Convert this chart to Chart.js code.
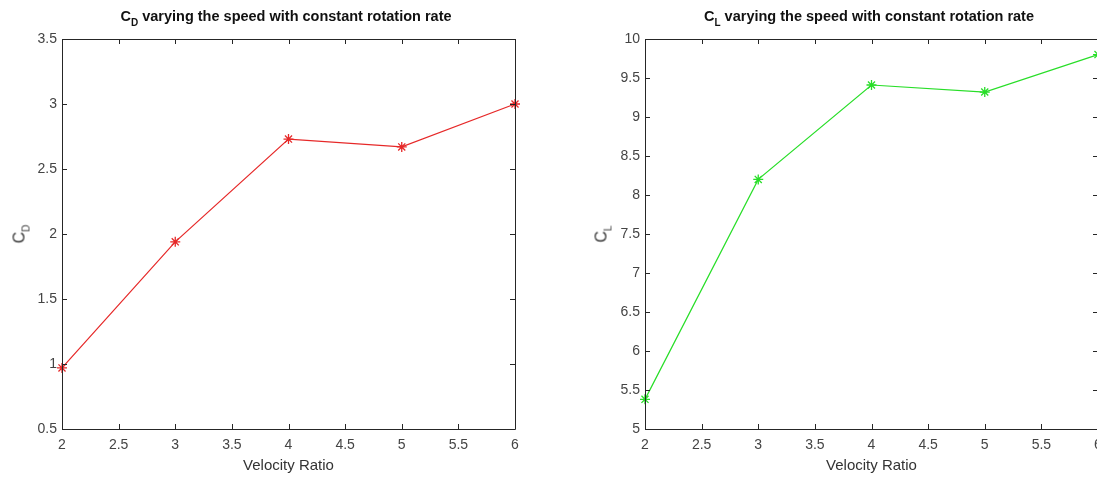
<!DOCTYPE html>
<html>
<head>
<meta charset="utf-8">
<script src="https://cdn.jsdelivr.net/npm/chart.js@4.4.0/dist/chart.umd.min.js"></script>
<style>
  html, body { margin: 0; padding: 0; background: #fff; }
  body { width: 1097px; height: 477px; overflow: hidden; position: relative; font-family: "Liberation Sans", Arial, sans-serif; }
  canvas { position: absolute; top: 0; }
  .ttl { position: absolute; font-weight: bold; font-size: 14.5px; color: #111; white-space: nowrap; transform: translateX(-50%); }
  .ylab { position: absolute; font-size: 16px; color: #333; white-space: nowrap; transform: translate(-50%, -50%) rotate(-90deg); }
  sub { font-size: 10px; vertical-align: -5px; }
</style>
</head>
<body>
<canvas id="cdChart" width="560" height="477" style="left:0px"></canvas>
<canvas id="clChart" width="560" height="477" style="left:560px"></canvas>
<div class="ttl" style="left:286px; top:8px">C<sub>D</sub> varying the speed with constant rotation rate</div>
<div class="ttl" style="left:869px; top:8px">C<sub>L</sub> varying the speed with constant rotation rate</div>
<div class="ylab" style="left:21px; top:234px">C<sub>D</sub></div>
<div class="ylab" style="left:603px; top:234px">C<sub>L</sub></div>
<script>
// values
var velocityRatio = [2, 3, 4, 5, 6];
var cdValues = [0.97, 1.94, 2.73, 2.67, 3.0];
var clValues = [5.38, 8.2, 9.41, 9.32, 9.8];

var xTicks = [2, 2.5, 3, 3.5, 4, 4.5, 5, 5.5, 6];
var cdTicks = [0.5, 1, 1.5, 2, 2.5, 3, 3.5];
var clTicks = [5, 5.5, 6, 6.5, 7, 7.5, 8, 8.5, 9, 9.5, 10];

var axisColor = '#262626';

// matlab style box with inward ticks on all four sides
var boxTicks = {
    id: 'boxTicks',
    afterDatasetsDraw: function(chart){
        var ctx = chart.ctx;
        var a = chart.chartArea;
        var xs = chart.scales.x, ys = chart.scales.y;
        var len = 5;
        ctx.save();
        ctx.strokeStyle = axisColor;
        ctx.lineWidth = 1;
        ctx.beginPath();
        ctx.rect(Math.round(a.left) + 0.5, Math.round(a.top) + 0.5, Math.round(a.right - a.left), Math.round(a.bottom - a.top));
        xs.ticks.forEach(function(t){
            var px = Math.round(xs.getPixelForValue(t.value)) + 0.5;
            ctx.moveTo(px, a.bottom); ctx.lineTo(px, a.bottom - len);
            ctx.moveTo(px, a.top); ctx.lineTo(px, a.top + len);
        });
        ys.ticks.forEach(function(t){
            var py = Math.round(ys.getPixelForValue(t.value)) + 0.5;
            ctx.moveTo(a.left, py); ctx.lineTo(a.left + len, py);
            ctx.moveTo(a.right, py); ctx.lineTo(a.right - len, py);
        });
        ctx.stroke();
        ctx.restore();
    }
};

function makeChart(id, values, yTicks, color, yWidth, rightPad){
    var points = velocityRatio.map(function(v, i){ return {x: v, y: values[i]}; });
    return new Chart(document.getElementById(id), {
        type: 'line',
        data: {
            datasets: [{
                data: points,
                borderColor: color,
                backgroundColor: color,
                borderWidth: 1.2,
                pointStyle: 'star',
                pointRadius: 5,
                pointBorderColor: color,
                pointBorderWidth: 1.3,
                tension: 0,
                clip: false
            }]
        },
        options: {
            responsive: false,
            animation: false,
            layout: { padding: { left: 0, right: rightPad, top: 39, bottom: 0 } },
            plugins: { legend: { display: false }, title: { display: false }, tooltip: { enabled: false } },
            scales: {
                x: {
                    type: 'linear',
                    min: xTicks[0],
                    max: xTicks[xTicks.length - 1],
                    afterBuildTicks: function(s){ s.ticks = xTicks.map(function(v){ return {value: v}; }); },
                    afterFit: function(s){ s.height = 48; },
                    grid: { display: false, drawTicks: false },
                    border: { display: false },
                    ticks: {
                        padding: 8,
                        color: '#444',
                        font: { family: 'Liberation Sans', size: 14 },
                        maxRotation: 0,
                        autoSkip: false,
                        callback: function(v){ return String(v); }
                    },
                    title: {
                        display: true,
                        text: 'Velocity Ratio',
                        color: '#333',
                        font: { family: 'Liberation Sans', size: 15 },
                        padding: { top: 0, bottom: 2 }
                    }
                },
                y: {
                    type: 'linear',
                    min: yTicks[0],
                    max: yTicks[yTicks.length - 1],
                    afterBuildTicks: function(s){ s.ticks = yTicks.map(function(v){ return {value: v}; }); },
                    afterFit: function(s){ s.width = yWidth; },
                    grid: { display: false, drawTicks: false },
                    border: { display: false },
                    ticks: {
                        padding: 5,
                        color: '#444',
                        font: { family: 'Liberation Sans', size: 14 },
                        autoSkip: false,
                        callback: function(v){ return String(v); }
                    }
                }
            }
        },
        plugins: [boxTicks]
    });
}

makeChart('cdChart', cdValues, cdTicks, 'rgb(230,40,40)', 62, 45);
makeChart('clChart', clValues, clTicks, 'rgb(40,222,40)', 85, 22);
</script>
</body>
</html>
